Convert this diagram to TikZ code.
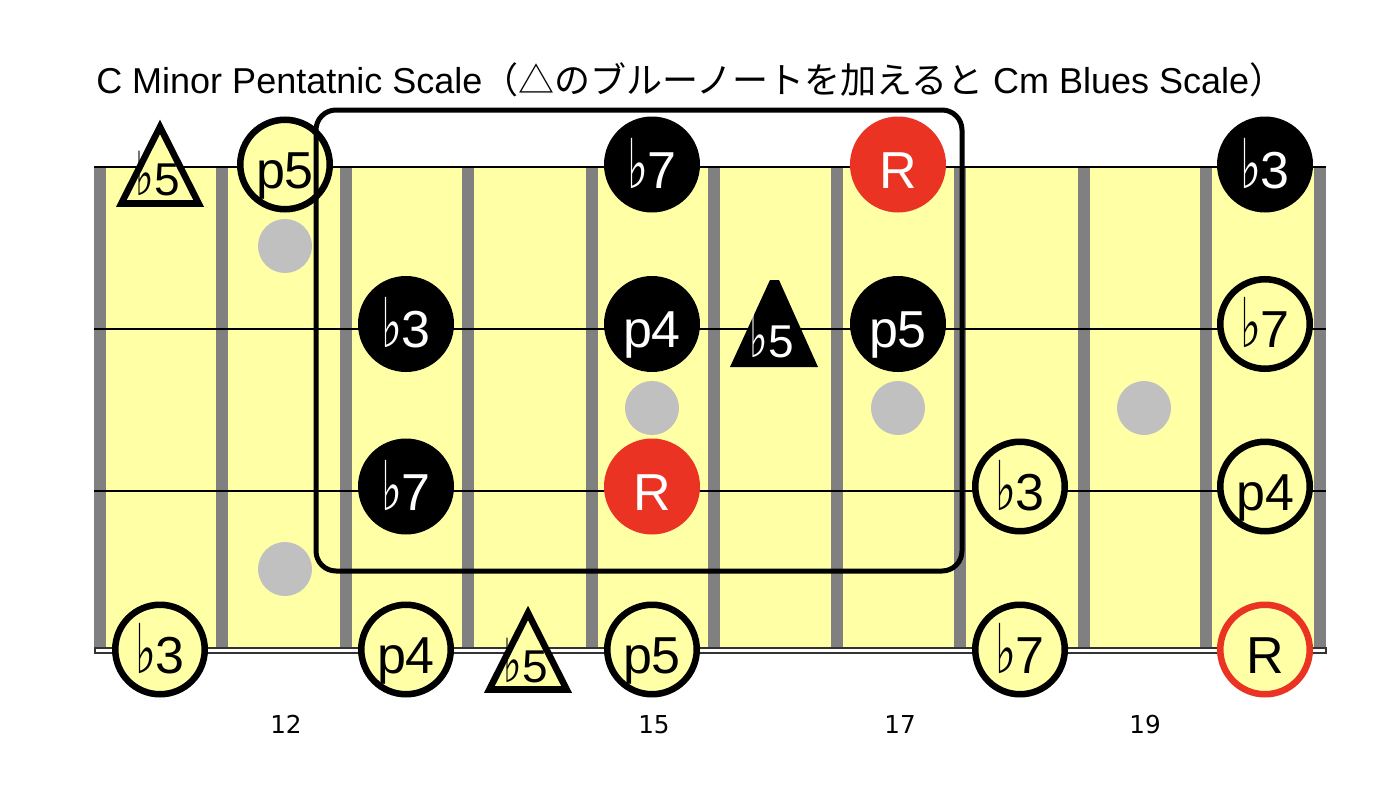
\documentclass[tikz,border=0pt]{standalone}
\usepackage{graphicx}
\usepackage{fontspec}
\setmainfont{Liberation Sans}
\newfontfamily\jpfont{Noto Sans CJK JP}
\newfontfamily\flatfont{DejaVu Sans}
\newfontfamily\numfont{DejaVu Sans}
\definecolor{fboard}{HTML}{FFFFA6}
\definecolor{fretgray}{HTML}{808080}
\definecolor{dotgray}{HTML}{C0C0C0}
\definecolor{rootred}{HTML}{EA3323}
\definecolor{edgegray}{HTML}{333333}
\newcommand\fl{{\flatfont\bfseries\scalebox{0.85}[1.32]{♭}}}
\begin{document}
\begin{tikzpicture}[x=0.75pt,y=-0.75pt,
  notebase/.style={circle, inner sep=0pt, outer sep=0pt,
    font=\fontsize{39}{39}\selectfont, text height=35.25pt, text depth=0pt},
  blk/.style={notebase, fill=black, text=white, minimum size=72pt},
  redn/.style={notebase, fill=rootred, text=white, minimum size=72pt},
  ring/.style={notebase, fill=fboard, draw=black, line width=4.9pt, text=black, minimum size=67.1pt},
  redring/.style={ring, draw=rootred},
  tritext/.style={anchor=base, inner sep=0pt, font=\fontsize{34.5}{34.5}\selectfont},
  triring/.style={fill=fboard, draw=black, line width=4.9pt, line join=miter},
  fnum/.style={anchor=base, inner sep=0pt, font=\numfont\fontsize{18.5}{18.5}\selectfont},
  fretbar/.style={fill=fretgray, draw=none},
  stringline/.style={draw=black, line width=1.5pt},
  markdot/.style={circle, fill=dotgray, draw=none, minimum size=40.5pt, inner sep=0pt}
]
\useasboundingbox (0,0) rectangle (1386,796);
\fill[white] (0,0) rectangle (1386,796);
% title
\node[anchor=base west, inner sep=0pt, font=\fontsize{27}{27}\selectfont] (title) at (96,93)
  {C Minor Pentatnic Scale{\jpfont （△のブルーノートを加えると} Cm Blues Scale{\jpfont ）}};
% fretboard
\fill[fboard] (94,166.7) rectangle (1326,648);
\foreach \fx in {100,222,346,468,592,714,837,960,1084,1206,1320}
  \fill[fretbar] (\fx-6,166.7) rectangle (\fx+6,648);
\draw[edgegray, line width=0.9pt, fill=white] (95,648) rectangle (1326,653);
\foreach \sy in {166.7,329,491}
  \draw[stringline] (94,\sy) -- (1326,\sy);
% position dots
\node[markdot] (d12a) at (285,246) {};
\node[markdot] (d12b) at (285,569) {};
\node[markdot] (d15) at (652,408) {};
\node[markdot] (d17) at (898,408) {};
\node[markdot] (d19) at (1144,408) {};
% string 1
\draw[triring] (160,126.9) -- (198.7,203.5) -- (121.3,203.5) -- cycle;
\node[tritext] (t11a) at (158,195.5) {\fl 5};
\node[ring] (n12a) at (285,164.5) {p5};
\node[blk] (n15a) at (652,164.5) {\fl 7};
\node[redn] (n17a) at (898,164.5) {R};
\node[blk] (n20a) at (1265,164.5) {\fl 3};
% string 2
\node[blk] (n13b) at (406,324) {\fl 3};
\node[blk] (n15b) at (652,324) {p4};
\fill[black] (770,280) -- (779,280) -- (818,367) -- (730,367) -- cycle;
\node[tritext, text=white] (t16b) at (772,357) {\fl 5};
\node[blk] (n17b) at (898,324) {p5};
\node[ring] (n20b) at (1265,324) {\fl 7};
% string 3
\node[blk] (n13c) at (406,486.5) {\fl 7};
\node[redn] (n15c) at (652,486.5) {R};
\node[ring] (n18c) at (1020,486.5) {\fl 3};
\node[ring] (n20c) at (1265,486.5) {p4};
% string 4
\node[ring] (n11d) at (160,649.5) {\fl 3};
\node[ring] (n13d) at (406,649.5) {p4};
\draw[triring] (528,613) -- (566.7,689.5) -- (489.3,689.5) -- cycle;
\node[tritext] (t14d) at (526,682) {\fl 5};
\node[ring] (n15d) at (652,649.5) {p5};
\node[ring] (n18d) at (1020,649.5) {\fl 7};
\node[redring] (n20d) at (1265,649.5) {R};
% box
\draw[black, line width=3.75pt, rounded corners=15pt] (316,110) rectangle (962,571);
% fret numbers
\node[fnum] (f12) at (286,733) {12};
\node[fnum] (f15) at (654,733) {15};
\node[fnum] (f17) at (900,733) {17};
\node[fnum] (f19) at (1145,733) {19};
\end{tikzpicture}
\end{document}
